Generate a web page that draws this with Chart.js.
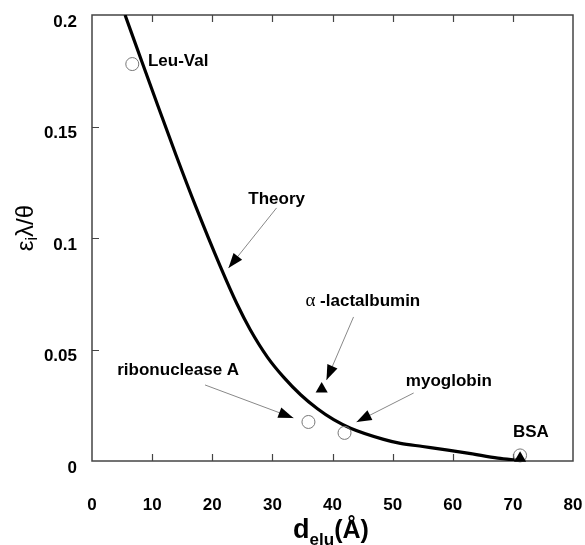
<!DOCTYPE html>
<html>
<head>
<meta charset="utf-8">
<script src="https://cdn.jsdelivr.net/npm/chart.js@4.4.1/dist/chart.umd.min.js"></script>
<style>
  html, body { margin: 0; padding: 0; background: #fff; }
  #wrap { width: 585px; height: 545px; }
</style>
</head>
<body>
<div id="wrap"><canvas id="chart"></canvas></div>
<script>
// theory curve
const theoryX = [5.5, 8.3, 11, 14, 17.2, 21.3, 24.1, 26.3, 29.2, 31.9, 34.7, 37.5, 40.2, 43, 48.5, 51.3, 55, 59.2, 63, 67.5, 70.8];
const theoryY = [0.2, 0.179, 0.159, 0.137, 0.1145, 0.0875, 0.0705, 0.059, 0.0465, 0.0375, 0.0297, 0.0234, 0.0185, 0.0147, 0.0097, 0.0079, 0.0065, 0.0049, 0.0033, 0.0013, 0.0003];

// measured points
const openNames = ['Leu-Val', 'ribonuclease A', 'myoglobin', 'BSA'];
const openX = [6.7, 36, 42, 71.2];
const openY = [0.178, 0.0175, 0.0126, 0.0025];
const filledNames = ['α-lactalbumin', 'BSA'];
const filledX = [38.2, 71.2];
const filledY = [0.0323, 0.0012];

const xTicks = [0, 10, 20, 30, 40, 50, 60, 70, 80];
const yTicks = [0, 0.05, 0.1, 0.15, 0.2];

const FONT = '"Liberation Sans", Arial, sans-serif';

// labels and arrows, in data units
const notes = [
    { parts: [['Leu-Val', 'bold 17px ' + FONT]], x: 9.3, y: 0.1794 },
    { parts: [['Theory', 'bold 17px ' + FONT]], x: 26.0, y: 0.1175, arrow: [30.7, 0.1135, 22.7, 0.0865] },
    { parts: [['α', '19px "Liberation Serif", serif'], [' -lactalbumin', 'bold 17px ' + FONT]], x: 35.5, y: 0.0717, arrow: [43.5, 0.0646, 39.0, 0.0363] },
    { parts: [['ribonuclease A', 'bold 17px ' + FONT]], x: 4.2, y: 0.0408, arrow: [18.8, 0.0341, 33.5, 0.0193] },
    { parts: [['myoglobin', 'bold 17px ' + FONT]], x: 52.2, y: 0.0359, arrow: [53.5, 0.0305, 44.0, 0.0175] },
    { parts: [['BSA', 'bold 17px ' + FONT]], x: 70.0, y: 0.013 }
];

const toPts = (xs, ys) => xs.map((v, i) => ({ x: v, y: ys[i] }));

function drawParts(ctx, parts, x, y, align) {
    let w = 0;
    parts.forEach(p => { ctx.font = p[1]; w += ctx.measureText(p[0]).width; });
    let cx = align === 'center' ? x - w / 2 : x;
    parts.forEach(p => {
        ctx.font = p[1];
        ctx.fillText(p[0], cx, y + (p[2] || 0));
        cx += ctx.measureText(p[0]).width;
    });
}

function arrowHead(ctx, x1, y1, x2, y2) {
    const ang = Math.atan2(y2 - y1, x2 - x1);
    const len = 15, half = 5.5;
    ctx.beginPath();
    ctx.moveTo(x2, y2);
    ctx.lineTo(x2 - len * Math.cos(ang) + half * Math.sin(ang), y2 - len * Math.sin(ang) - half * Math.cos(ang));
    ctx.lineTo(x2 - len * Math.cos(ang) - half * Math.sin(ang), y2 - len * Math.sin(ang) + half * Math.cos(ang));
    ctx.closePath();
    ctx.fill();
}

// no extra room for overflowing tick labels
function noPad(s) {
    s.paddingLeft = 0; s.paddingRight = 0; s.paddingTop = 0; s.paddingBottom = 0;
}

const frame = {
    id: 'frame',
    beforeDatasetsDraw(chart) {
        const { ctx, chartArea: a, scales: { x, y } } = chart;
        ctx.save();
        ctx.strokeStyle = '#444';
        ctx.lineWidth = 1.5;
        ctx.strokeRect(a.left, a.top, a.right - a.left, a.bottom - a.top);
        ctx.lineWidth = 1.2;
        ctx.beginPath();
        xTicks.slice(1, -1).forEach(v => {
            const px = Math.round(x.getPixelForValue(v)) + 0.5;
            ctx.moveTo(px, a.bottom); ctx.lineTo(px, a.bottom - 7);
            ctx.moveTo(px, a.top); ctx.lineTo(px, a.top + 7);
        });
        yTicks.slice(1, -1).forEach(v => {
            const py = Math.round(y.getPixelForValue(v)) + 0.5;
            ctx.moveTo(a.left, py); ctx.lineTo(a.left + 7, py);
        });
        ctx.stroke();
        ctx.restore();
    },
    afterDatasetsDraw(chart) {
        const { ctx, scales: { x, y } } = chart;
        ctx.save();
        ctx.fillStyle = '#000';
        ctx.textBaseline = 'middle';
        notes.forEach(n => {
            drawParts(ctx, n.parts, x.getPixelForValue(n.x), y.getPixelForValue(n.y), 'left');
            if (n.arrow) {
                const x1 = x.getPixelForValue(n.arrow[0]), y1 = y.getPixelForValue(n.arrow[1]);
                const x2 = x.getPixelForValue(n.arrow[2]), y2 = y.getPixelForValue(n.arrow[3]);
                ctx.strokeStyle = '#888';
                ctx.lineWidth = 1;
                ctx.beginPath();
                ctx.moveTo(x1, y1); ctx.lineTo(x2, y2);
                ctx.stroke();
                arrowHead(ctx, x1, y1, x2, y2);
            }
        });

        // axis titles
        ctx.textBaseline = 'alphabetic';
        drawParts(ctx, [['d', 'bold 27px ' + FONT], ['elu', 'bold 17px ' + FONT, 7], ['(Å)', 'bold 25px ' + FONT]], 331, 538, 'center');
        ctx.translate(26, 228);
        ctx.rotate(-Math.PI / 2);
        ctx.textBaseline = 'middle';
        drawParts(ctx, [['ε', '24px ' + FONT], ['i', '16px ' + FONT, 7], ['λ/θ', '24px ' + FONT]], 0, 0, 'center');
        ctx.restore();
    }
};

new Chart(document.getElementById('chart'), {
    type: 'scatter',
    data: {
        datasets: [
            {
                label: 'Theory',
                data: toPts(theoryX, theoryY),
                showLine: true,
                borderColor: '#000',
                borderWidth: 3.2,
                pointRadius: 0,
                cubicInterpolationMode: 'monotone',
                order: 3
            },
            {
                label: 'open',
                data: toPts(openX, openY),
                pointStyle: 'circle',
                pointRadius: 6.5,
                borderWidth: 1,
                borderColor: '#777',
                backgroundColor: 'rgba(255,255,255,0)',
                clip: false,
                order: 2
            },
            {
                label: 'filled',
                data: toPts(filledX, filledY),
                pointStyle: 'triangle',
                pointRadius: 7,
                borderWidth: 0,
                backgroundColor: '#000',
                clip: false,
                order: 1
            }
        ]
    },
    options: {
        responsive: true,
        maintainAspectRatio: false,
        animation: false,
        layout: { padding: { top: 15, right: 12, left: 0, bottom: 0 } },
        plugins: { legend: { display: false }, tooltip: { enabled: false } },
        scales: {
            x: {
                type: 'linear',
                min: 0, max: 80,
                grid: { display: false, drawTicks: false },
                border: { display: false },
                afterFit: s => { s.height = 84; noPad(s); },
                afterBuildTicks: s => { s.ticks = xTicks.map(v => ({ value: v })); },
                ticks: { color: '#000', padding: 34, font: { family: FONT, size: 17, weight: 'bold' } }
            },
            y: {
                type: 'linear',
                min: 0, max: 0.2,
                grid: { display: false, drawTicks: false },
                border: { display: false },
                afterFit: s => { s.width = 92; noPad(s); },
                afterBuildTicks: s => { s.ticks = yTicks.map(v => ({ value: v })); },
                ticks: {
                    color: '#000', padding: 15, labelOffset: 7,
                    font: { family: FONT, size: 17, weight: 'bold' },
                    callback: v => String(+Number(v).toFixed(2))
                }
            }
        }
    },
    plugins: [frame]
});
</script>
</body>
</html>
